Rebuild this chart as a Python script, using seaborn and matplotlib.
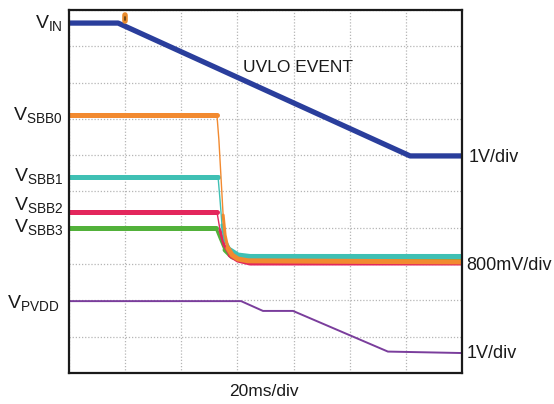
import matplotlib
matplotlib.use("Agg")
import matplotlib.pyplot as plt
import seaborn as sns

# time axis in ms (20 ms/div, 7 divisions), vertical in scope divisions (10 div)
vin_t = [0, 17.5, 121.5, 140]
vin_v = [9.64, 9.64, 5.98, 5.98]

sbb0_t = [0, 52.7, 53.4, 54.2, 54.9, 55.6, 56.6, 58.1, 60.2, 63.8, 140]
sbb0_v = [7.11, 7.11, 6.42, 5.32, 4.35, 3.80, 3.44, 3.25, 3.14, 3.09, 3.06]

sbb1_t = [0, 53.1, 53.8, 54.5, 55.6, 57.4, 60.2, 64.5, 140]
sbb1_v = [5.40, 5.40, 4.77, 4.08, 3.66, 3.39, 3.25, 3.21, 3.21]

sbb2_t = [0, 52.7, 53.8, 55.2, 57.4, 60.2, 64.5, 140]
sbb2_v = [4.44, 4.44, 3.94, 3.53, 3.25, 3.11, 3.03, 3.03]

sbb3_t = [0, 52.4, 53.8, 55.6, 58.1, 62.7, 140]
sbb3_v = [3.99, 3.99, 3.72, 3.39, 3.20, 3.09, 3.08]

pvdd_t = [0, 61.3, 69.1, 79.8, 113.6, 140]
pvdd_v = [1.98, 1.98, 1.71, 1.71, 0.59, 0.55]

trigger_t = 19.95
trigger_v = 9.77

sns.set_style("white")
plt.rcParams["font.family"] = ["Liberation Sans", "DejaVu Sans"]
plt.rcParams["mathtext.fontset"] = "custom"
plt.rcParams["mathtext.rm"] = "Liberation Sans"
plt.rcParams["mathtext.it"] = "Liberation Sans"

W, H = 554, 404
fig = plt.figure(figsize=(W / 100, H / 100), dpi=100)
ax = fig.add_axes([69 / W, 1 - 373 / H, (462 - 69) / W, (373 - 10) / H])

# scope grid
ax.set_xlim(0, 140)
ax.set_ylim(0, 10)
ax.set_xticks(range(0, 141, 20))
ax.set_yticks(range(0, 11))
ax.grid(True, color="#b5b5b5", linestyle=(0, (1, 1.5)), linewidth=0.9)
ax.tick_params(left=False, bottom=False, labelleft=False, labelbottom=False)
for s in ax.spines.values():
    s.set_color("#1a1a1a")
    s.set_linewidth(1.6)

# SBB rails: thin during the fall, thick (noisy) while flat
rails = [
    (sbb3_t, sbb3_v, "#52b13a", 3),
    (sbb2_t, sbb2_v, "#e3265c", 4),
    (sbb1_t, sbb1_v, "#3fc0b4", 5),
    (sbb0_t, sbb0_v, "#f28a30", 6),
]
for t, v, c, k in rails:
    sns.lineplot(x=t, y=v, ax=ax, color=c, lw=1.0, estimator=None)
    sns.lineplot(x=t[:2], y=v[:2], ax=ax, color=c, lw=3.6, estimator=None)
    sns.lineplot(x=t[k - 2:k + 1], y=v[k - 2:k + 1], ax=ax, color=c, lw=2.2, estimator=None)
    sns.lineplot(x=t[k:], y=v[k:], ax=ax, color=c, lw=3.6, estimator=None)

sns.lineplot(x=vin_t, y=vin_v, ax=ax, color="#2a3e9c", lw=3.8, estimator=None)
sns.lineplot(x=pvdd_t, y=pvdd_v, ax=ax, color="#7a3d9c", lw=1.4, estimator=None)

# trigger marker
ax.plot([trigger_t, trigger_t], [trigger_v - 0.08, trigger_v + 0.08], color="#e88a2c",
        lw=4.0, solid_capstyle="round", clip_on=False, zorder=5)
ax.plot([trigger_t, trigger_t], [trigger_v - 0.05, trigger_v + 0.05], color="#6b4410",
        lw=1.3, clip_on=False, zorder=6)

# labels
def px(x, y):
    return x / W, 1 - y / H

lab = dict(fontsize=14, ha="right", va="baseline", color="#1a1a1a")
fig.text(*px(63, 28), r"V$_{\mathregular{IN}}$", **lab)
fig.text(*px(63, 120), r"V$_{\mathregular{SBB0}}$", **lab)
fig.text(*px(63, 181), r"V$_{\mathregular{SBB1}}$", **lab)
fig.text(*px(63, 210), r"V$_{\mathregular{SBB2}}$", **lab)
fig.text(*px(63, 232), r"V$_{\mathregular{SBB3}}$", **lab)
fig.text(*px(59, 308), r"V$_{\mathregular{PVDD}}$", **lab)

rlab = dict(fontsize=13, ha="left", va="center", color="#1a1a1a")
fig.text(*px(469, 157), "1V/div", **rlab)
fig.text(*px(466, 266), "800mV/div", **rlab)
fig.text(*px(467, 354), "1V/div", **rlab)

fig.text(*px(243, 68), "UVLO EVENT", fontsize=12.5, ha="left", va="center", color="#1a1a1a")
fig.text(*px(264, 392), "20ms/div", fontsize=12.5, ha="center", va="center", color="#1a1a1a")

fig.savefig("out.png", dpi=100)
